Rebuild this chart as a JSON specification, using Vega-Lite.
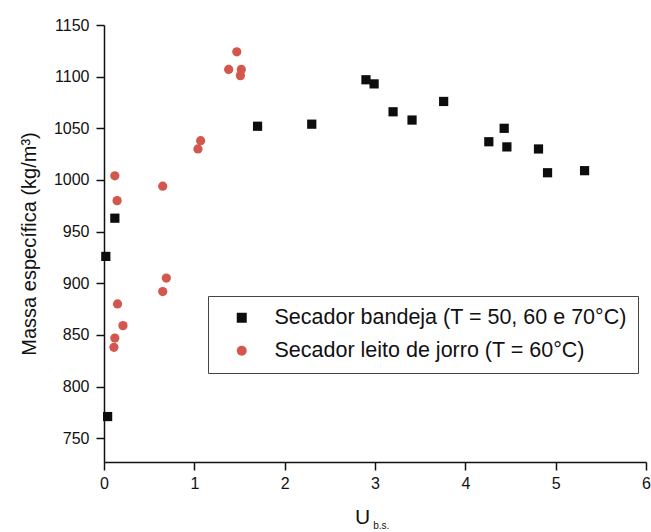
{
  "$schema": "https://vega.github.io/schema/vega-lite/v6.json",
  "width": 542,
  "height": 437,
  "autosize": {"type": "none"},
  "padding": {"left": 104, "top": 25, "right": 5, "bottom": 70},
  "config": {
    "font": "Liberation Sans",
    "view": {"stroke": null},
    "axis": {
      "domainColor": "#111",
      "tickColor": "#111",
      "labelColor": "#111",
      "titleColor": "#111",
      "grid": false,
      "domainWidth": 1.5,
      "tickWidth": 1.5,
      "labelFontSize": 16,
      "labelFlush": false,
      "titleFontWeight": "normal"
    }
  },
  "datasets": {
    "densidade": [
      {"u": 0.02, "rho": 926, "secador": "Secador bandeja (T = 50, 60 e 70°C)"},
      {"u": 0.04, "rho": 771, "secador": "Secador bandeja (T = 50, 60 e 70°C)"},
      {"u": 0.12, "rho": 963, "secador": "Secador bandeja (T = 50, 60 e 70°C)"},
      {"u": 1.70, "rho": 1052, "secador": "Secador bandeja (T = 50, 60 e 70°C)"},
      {"u": 2.30, "rho": 1054, "secador": "Secador bandeja (T = 50, 60 e 70°C)"},
      {"u": 2.90, "rho": 1097, "secador": "Secador bandeja (T = 50, 60 e 70°C)"},
      {"u": 2.99, "rho": 1093, "secador": "Secador bandeja (T = 50, 60 e 70°C)"},
      {"u": 3.20, "rho": 1066, "secador": "Secador bandeja (T = 50, 60 e 70°C)"},
      {"u": 3.41, "rho": 1058, "secador": "Secador bandeja (T = 50, 60 e 70°C)"},
      {"u": 3.76, "rho": 1076, "secador": "Secador bandeja (T = 50, 60 e 70°C)"},
      {"u": 4.26, "rho": 1037, "secador": "Secador bandeja (T = 50, 60 e 70°C)"},
      {"u": 4.43, "rho": 1050, "secador": "Secador bandeja (T = 50, 60 e 70°C)"},
      {"u": 4.46, "rho": 1032, "secador": "Secador bandeja (T = 50, 60 e 70°C)"},
      {"u": 4.81, "rho": 1030, "secador": "Secador bandeja (T = 50, 60 e 70°C)"},
      {"u": 4.91, "rho": 1007, "secador": "Secador bandeja (T = 50, 60 e 70°C)"},
      {"u": 5.32, "rho": 1009, "secador": "Secador bandeja (T = 50, 60 e 70°C)"},
      {"u": 0.12, "rho": 1004, "secador": "Secador leito de jorro (T = 60°C)"},
      {"u": 0.145, "rho": 980, "secador": "Secador leito de jorro (T = 60°C)"},
      {"u": 0.65, "rho": 994, "secador": "Secador leito de jorro (T = 60°C)"},
      {"u": 1.04, "rho": 1030, "secador": "Secador leito de jorro (T = 60°C)"},
      {"u": 1.07, "rho": 1038, "secador": "Secador leito de jorro (T = 60°C)"},
      {"u": 1.38, "rho": 1107, "secador": "Secador leito de jorro (T = 60°C)"},
      {"u": 1.47, "rho": 1124, "secador": "Secador leito de jorro (T = 60°C)"},
      {"u": 1.52, "rho": 1107, "secador": "Secador leito de jorro (T = 60°C)"},
      {"u": 1.51, "rho": 1101, "secador": "Secador leito de jorro (T = 60°C)"},
      {"u": 0.15, "rho": 880, "secador": "Secador leito de jorro (T = 60°C)"},
      {"u": 0.21, "rho": 859, "secador": "Secador leito de jorro (T = 60°C)"},
      {"u": 0.12, "rho": 847, "secador": "Secador leito de jorro (T = 60°C)"},
      {"u": 0.11, "rho": 838, "secador": "Secador leito de jorro (T = 60°C)"},
      {"u": 0.65, "rho": 892, "secador": "Secador leito de jorro (T = 60°C)"},
      {"u": 0.69, "rho": 905, "secador": "Secador leito de jorro (T = 60°C)"}
    ],
    "subscrito": [{"texto": "b.s.", "u": 2.98, "rho": 727}]
  },
  "layer": [
    {
      "data": {"name": "densidade"},
      "mark": {"type": "point", "filled": true, "opacity": 1, "size": 85},
      "encoding": {
        "x": {
          "field": "u",
          "type": "quantitative",
          "scale": {"domain": [0, 6], "nice": false, "zero": false},
          "axis": {
            "values": [0, 0.5, 1, 1.5, 2, 2.5, 3, 3.5, 4, 4.5, 5, 5.5, 6],
            "format": "d",
            "labelExpr": "datum.value % 1 === 0 ? datum.label : ''",
            "tickSize": {"condition": {"test": "datum.value % 1 === 0", "value": 8}, "value": 4},
            "labelPadding": 5,
            "title": "U",
            "titleFontSize": 21,
            "titleX": 258,
            "titleY": 61,
            "titleAlign": "center",
            "titleBaseline": "alphabetic"
          }
        },
        "y": {
          "field": "rho",
          "type": "quantitative",
          "scale": {"domain": [727, 1150], "nice": false, "zero": false},
          "axis": {
            "values": [750, 775, 800, 825, 850, 875, 900, 925, 950, 975, 1000, 1025, 1050, 1075, 1100, 1125, 1150],
            "format": "d",
            "labelExpr": "datum.value % 50 === 0 ? datum.label : ''",
            "tickSize": {"condition": {"test": "datum.value % 50 === 0", "value": 8}, "value": 4},
            "labelPadding": 7,
            "title": "Massa específica (kg/m³)",
            "titleFontSize": 20,
            "titlePadding": 14
          }
        },
        "shape": {
          "field": "secador",
          "type": "nominal",
          "scale": {
            "domain": ["Secador bandeja (T = 50, 60 e 70°C)", "Secador leito de jorro (T = 60°C)"],
            "range": ["square", "circle"]
          },
          "legend": {
            "title": null,
            "orient": "none",
            "legendX": 104,
            "legendY": 271,
            "padding": 11,
            "strokeColor": "#444",
            "symbolSize": 100,
            "symbolOffset": 12,
            "labelOffset": 22,
            "labelFontSize": 21.5,
            "labelColor": "#111",
            "labelLimit": 500,
            "rowPadding": 10
          }
        },
        "color": {
          "field": "secador",
          "type": "nominal",
          "scale": {
            "domain": ["Secador bandeja (T = 50, 60 e 70°C)", "Secador leito de jorro (T = 60°C)"],
            "range": ["#0d0d0d", "#d4574d"]
          },
          "legend": {
            "title": null,
            "orient": "none",
            "legendX": 104,
            "legendY": 271,
            "padding": 11,
            "strokeColor": "#444",
            "symbolSize": 100,
            "symbolOffset": 12,
            "labelOffset": 22,
            "labelFontSize": 21.5,
            "labelColor": "#111",
            "labelLimit": 500,
            "rowPadding": 10
          }
        }
      }
    },
    {
      "data": {"name": "subscrito"},
      "mark": {"type": "text", "align": "left", "baseline": "alphabetic", "dy": 67, "fontSize": 10, "color": "#111"},
      "encoding": {
        "x": {"field": "u", "type": "quantitative"},
        "y": {"field": "rho", "type": "quantitative"},
        "text": {"field": "texto"}
      }
    }
  ]
}
